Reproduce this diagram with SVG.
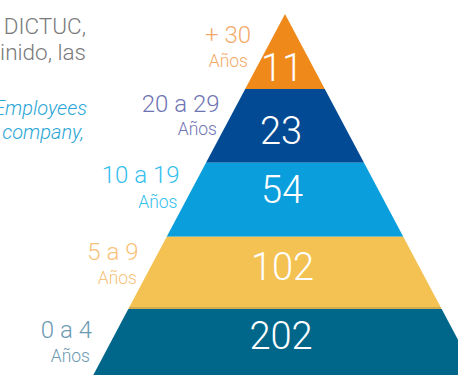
<svg xmlns="http://www.w3.org/2000/svg" width="458" height="375" viewBox="0 0 458 375">
<style>
.num{font-family:Roboto,"Liberation Sans",sans-serif;font-weight:300;font-size:38px;fill:#ffffff;text-anchor:middle}
.lab{font-family:Roboto,"Liberation Sans",sans-serif;font-weight:300;font-size:24px;text-anchor:end}
.yrs{font-family:Roboto,"Liberation Sans",sans-serif;font-weight:300;font-size:17.5px;text-anchor:end}
.body{font-family:Roboto,"Liberation Sans",sans-serif;font-weight:300;font-size:22.5px;fill:#7a7a7a;text-anchor:end}
.ital{font-family:Roboto,"Liberation Sans",sans-serif;font-weight:300;font-style:italic;font-size:20px;fill:#2aa6d6;text-anchor:end}
</style>
<rect width="458" height="375" fill="#ffffff"/>
<g id="bodytext">
<text class="body" x="86" y="34">DICTUC,</text>
<text class="body" x="86" y="60">inido, las</text>
<text class="ital" x="87" y="115">Employees</text>
<text class="ital" x="84" y="139">company,</text>
</g>
<g id="band-30">
<polygon points="285,14 324.8,89 245.2,89" fill="#ef8a1a"/>
<text class="num" x="282" y="81">11</text>
<text class="lab" x="251" y="43" fill="#f2aa6a">+ 30</text>
<text class="yrs" x="248" y="67" fill="#f2aa6a">Años</text>
</g>
<g id="band-20">
<polygon points="245.2,89 324.8,89 364,162.7 206,162.7" fill="#024a94"/>
<text class="num" x="281" y="143.5">23</text>
<text class="lab" x="219.5" y="111.5" fill="#6f74b4">20 a 29</text>
<text class="yrs" x="217" y="135" fill="#6f74b4">Años</text>
</g>
<g id="band-10">
<polygon points="206,162.7 364,162.7 403.3,236.7 166.7,236.7" fill="#0a9edc"/>
<text class="num" x="282" y="203">54</text>
<text class="lab" x="179.5" y="182.5" fill="#35c0ee">10 a 19</text>
<text class="yrs" x="177.5" y="207.5" fill="#35c0ee">Años</text>
</g>
<g id="band-5">
<polygon points="166.7,236.7 403.3,236.7 441.7,309 128.3,309" fill="#f3c253"/>
<line x1="129" y1="308" x2="441" y2="308" stroke="#c9a24a" stroke-width="1.5"/>
<text class="num" x="282.5" y="279.5">102</text>
<text class="lab" x="138.5" y="260" fill="#f7c27a">5 a 9</text>
<text class="yrs" x="137" y="283.5" fill="#f7c27a">Años</text>
</g>
<g id="band-0">
<polygon points="128.3,309 441.7,309 476.7,375 93.3,375" fill="#01678a"/>
<text class="num" x="281" y="348.5">202</text>
<text class="lab" x="92" y="337.5" fill="#6c9ab2">0 a 4</text>
<text class="yrs" x="90" y="361.5" fill="#6c9ab2">Años</text>
</g>
<g id="connectors"></g>
</svg>
